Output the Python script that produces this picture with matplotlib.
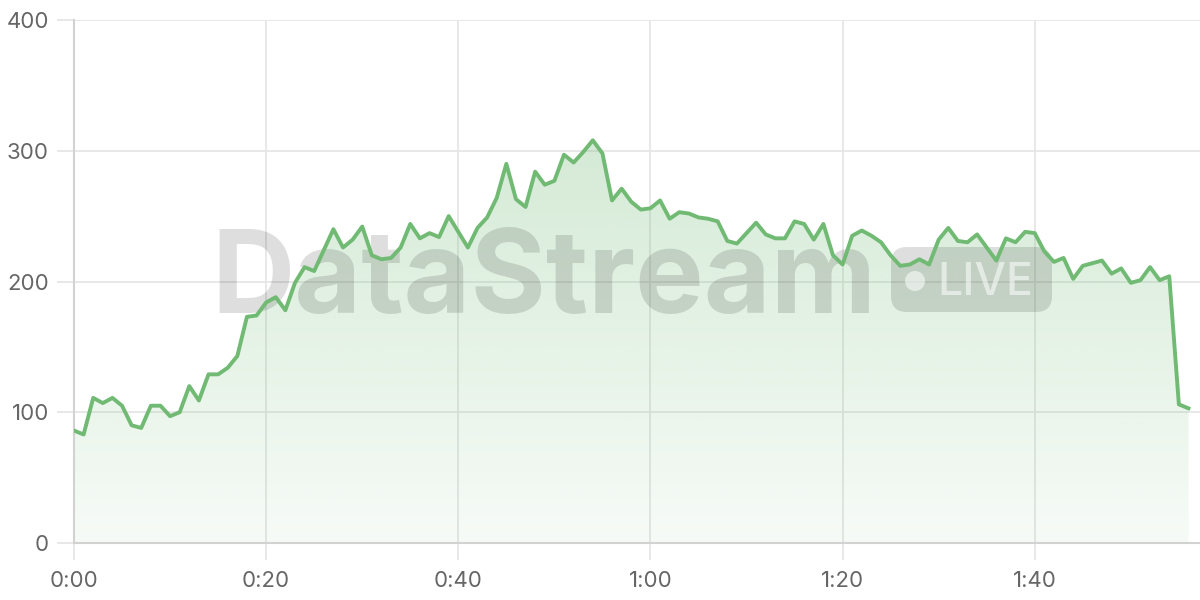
import numpy as np
import matplotlib
matplotlib.use("Agg")
import matplotlib.pyplot as plt
from matplotlib.patches import FancyBboxPatch, Circle

plt.rcParams['font.family'] = ['Inter', 'DejaVu Sans']

# viewers per minute
minutes = list(range(117))
viewers = [
    86, 83, 111, 107, 111, 105, 90, 88, 105, 105,
    97, 100, 120, 109, 129, 129, 134, 143, 173, 174,
    184, 188, 178, 199, 211, 208, 224, 240, 226, 232,
    242, 220, 217, 218, 226, 244, 233, 237, 234, 250,
    238, 226, 241, 249, 264, 290, 263, 257, 284, 274,
    277, 297, 291, 299, 308, 298, 262, 271, 261, 255,
    256, 262, 248, 253, 252, 249, 248, 246, 231, 229,
    237, 245, 236, 233, 233, 246, 244, 232, 244, 220,
    213, 235, 239, 235, 230, 220, 212, 213, 217, 213,
    232, 241, 231, 230, 236, 226, 216, 233, 230, 238,
    237, 223, 215, 218, 202, 212, 214, 216, 206, 210,
    199, 201, 211, 201, 204, 106, 103,
]
xticks = [0, 20, 40, 60, 80, 100]
xtick_labels = ["0:00", "0:20", "0:40", "1:00", "1:20", "1:40"]
yticks = [0, 100, 200, 300, 400]

line_color = "#70ba74"

fig = plt.figure(figsize=(12, 6), dpi=100)
ax = fig.add_axes([74 / 1200, 57 / 600, 1126 / 1200, 523 / 600])

x = np.array(minutes)
y = np.array(viewers)

# gradient fill under the line
poly = ax.fill_between(x, y, 0, color="none", lw=0)
grad = np.linspace(0.06, 0.3, 256).reshape(-1, 1)
rgba = np.zeros((256, 1, 4))
rgba[..., 0] = 0x70 / 255
rgba[..., 1] = 0xba / 255
rgba[..., 2] = 0x74 / 255
rgba[..., 3] = grad
img = ax.imshow(rgba, aspect="auto", origin="lower",
                extent=[x.min(), x.max(), 0, 310], zorder=1)
img.set_clip_path(poly.get_paths()[0], transform=ax.transData)

ax.plot(x, y, color=line_color, lw=2.8, zorder=4)

ax.set_xlim(0, 117.2)
ax.set_ylim(0, 400)
ax.set_xticks(xticks)
ax.set_xticklabels(xtick_labels)
ax.set_yticks(yticks)
ax.grid(True, color="#e6e6e6", lw=1.3, zorder=0)
ax.set_axisbelow(True)
for s in ["top", "right"]:
    ax.spines[s].set_visible(False)
for s in ["left", "bottom"]:
    ax.spines[s].set_color("#d2d2d2")
    ax.spines[s].set_linewidth(1.5)
ax.tick_params(length=12, width=1.3, color="#e6e6e6", labelsize=16,
               labelcolor="#666666")
ax.tick_params(axis="y", pad=6)
ax.tick_params(axis="x", pad=8)

# watermark, inside the axes so the line stays on top
ax.text(211 / 1200, (600 - 313) / 600, "DataStream", fontsize=83,
        fontweight="bold", color="black", alpha=0.13, ha="left",
        va="baseline", zorder=3, transform=fig.transFigure)
pill = FancyBboxPatch((8.91, 2.88), 1.61, 0.65,
                      boxstyle="round,pad=0,rounding_size=0.16",
                      transform=fig.dpi_scale_trans, facecolor="black",
                      edgecolor="none", alpha=0.13, zorder=3, clip_on=False)
ax.add_artist(pill)
dot = Circle((9.15, 3.19), 0.10, transform=fig.dpi_scale_trans,
             facecolor="white", edgecolor="none", alpha=0.55, zorder=3,
             clip_on=False)
ax.add_artist(dot)
ax.text(937 / 1200, (600 - 295) / 600, "LIVE", fontsize=32,
        fontweight="medium", color="white", alpha=0.55, ha="left",
        va="baseline", zorder=3, transform=fig.transFigure)

fig.savefig("out.png", dpi=100)
